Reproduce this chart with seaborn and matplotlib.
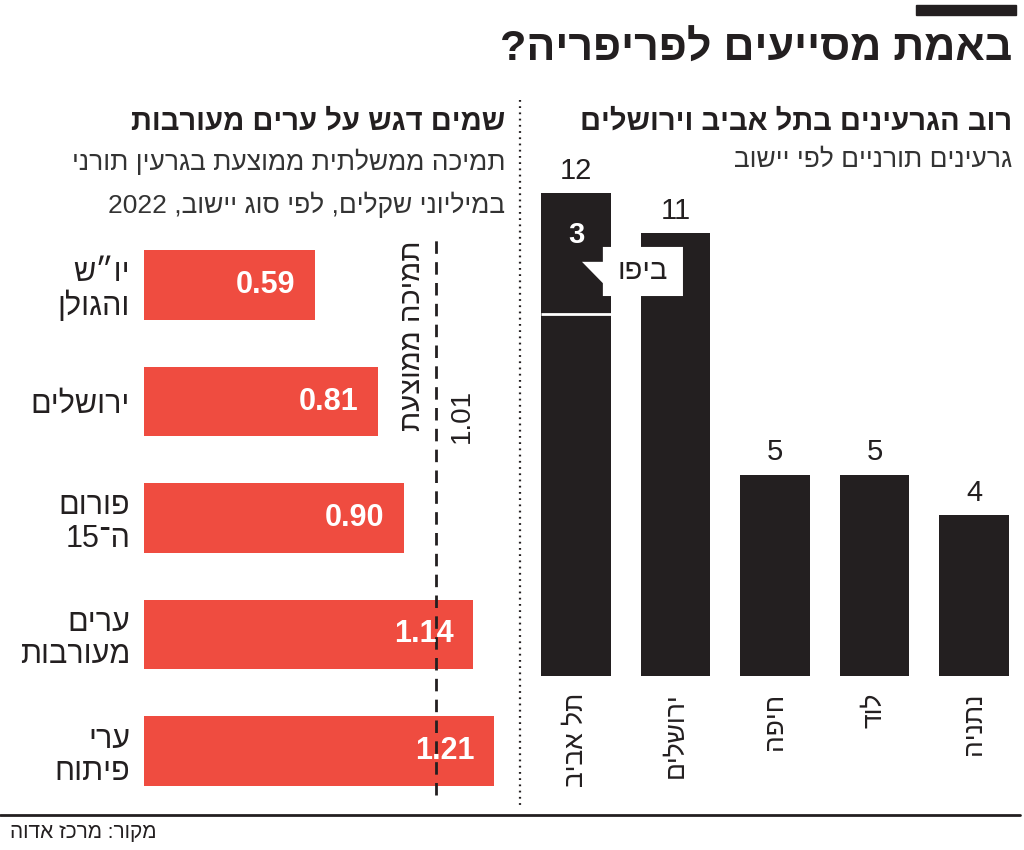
import re
import matplotlib
matplotlib.use("Agg")
import matplotlib.pyplot as plt
import seaborn as sns
import pandas as pd
from matplotlib.patches import Polygon, Rectangle
from matplotlib.lines import Line2D

# right panel: torah garinim per city
cities = ["תל אביב", "ירושלים", "חיפה", "לוד", "נתניה"]
garinim = [12, 11, 5, 5, 4]
jaffa_garinim = 3

# left panel: avg government support per garin, million NIS, 2022
settlement_types = ["יו״ש\nוהגולן", "ירושלים", "פורום\nה־15", "ערים\nמעורבות", "ערי\nפיתוח"]
avg_support = [0.59, 0.81, 0.90, 1.14, 1.21]
overall_avg = 1.01

title = "באמת מסייעים לפריפריה?"
right_title = "רוב הגרעינים בתל אביב וירושלים"
right_sub = "גרעינים תורניים לפי יישוב"
left_title = "שמים דגש על ערים מעורבות"
left_sub = ["תמיכה ממשלתית ממוצעת בגרעין תורני", "במיליוני שקלים, לפי סוג יישוב, 2022"]
source = "מקור: מרכז אדוה"

BLACK = "#231f20"
RED = "#ef4c40"
GRAY = "#333333"


def rtl(s):
    # matplotlib has no bidi, so flip each line but keep numbers readable
    out = []
    for line in s.split("\n"):
        tokens = re.findall(r"\d+(?:[.,]\d+)*|\D", line)
        out.append("".join(reversed(tokens)))
    return "\n".join(out)


sns.set_theme(style="white")
plt.rcParams["font.family"] = ["Liberation Sans", "DejaVu Sans"]

W, H = 1024, 850
fig = plt.figure(figsize=(W / 100, H / 100), dpi=100)


def fx(px):
    return px / W


def fy(py):
    return 1 - py / H


# ---- right chart ----
ax_r = fig.add_axes([fx(526.25), fy(676), 497.5 / W, 483 / H])
df_r = pd.DataFrame({"city": [rtl(c) for c in cities], "count": garinim})
sns.barplot(data=df_r, x="city", y="count", color=BLACK, saturation=1,
            width=0.7, linewidth=0, ax=ax_r)
ax_r.set_ylim(0, 12)
ax_r.set_xlim(-0.5, 4.5)
sns.despine(ax=ax_r, left=True, bottom=True)
ax_r.set_yticks([])
ax_r.set_xlabel("")
ax_r.set_ylabel("")
ax_r.tick_params(axis="x", length=0, pad=12, labelsize=19, colors=BLACK)
for lbl in ax_r.get_xticklabels():
    lbl.set_rotation(90)
    lbl.set_va("top")
ax_r.bar_label(ax_r.containers[0], labels=[str(v) for v in garinim],
               padding=6, fontsize=21, color=BLACK)

# Jaffa split inside the Tel Aviv bar
p = ax_r.patches[0]
ax_r.hlines(garinim[0] - jaffa_garinim, p.get_x(), p.get_x() + p.get_width(),
            colors="white", lw=2)
ax_r.text(0, garinim[0] - jaffa_garinim * 0.35, str(jaffa_garinim),
          color="white", ha="center", va="center", fontsize=21, weight="bold")
callout = Polygon([(0.27, 10.66), (1.075, 10.66), (1.075, 9.44), (0.27, 9.44),
                   (0.27, 9.76), (0.06, 10.29), (0.27, 10.29)],
                  closed=True, facecolor="white", edgecolor="none", zorder=5)
ax_r.add_patch(callout)
ax_r.text(0.67, 10.05, rtl("ביפו"), ha="center", va="center",
          fontsize=21, color=BLACK, zorder=6)

# ---- left chart ----
ax_l = fig.add_axes([fx(144), fy(809.25), 1.3 * 289 / W, 582.5 / H])
df_l = pd.DataFrame({"type": [rtl(s) for s in settlement_types], "support": avg_support})
sns.barplot(data=df_l, x="support", y="type", orient="h", color=RED,
            saturation=1, width=0.6, linewidth=0, ax=ax_l)
ax_l.set_xlim(0, 1.3)
ax_l.set_ylim(4.5, -0.5)
sns.despine(ax=ax_l, left=True, bottom=True)
ax_l.set_xticks([])
ax_l.set_xlabel("")
ax_l.set_ylabel("")
ax_l.tick_params(axis="y", length=0, pad=10, labelsize=22, colors=BLACK)
for lbl in ax_l.get_yticklabels():
    lbl.set_multialignment("right")
    lbl.set_linespacing(1.1)

for i, v in enumerate(avg_support):
    ax_l.annotate(f"{v:.2f}", (v, i), xytext=(-14, 0), textcoords="offset points",
                  ha="right", va="center", color="white", fontsize=22,
                  weight="bold", zorder=4)

ax_l.axvline(overall_avg, ymin=0.025, ymax=0.977, color=BLACK, lw=2,
             ls=(0, (4.5, 3)), zorder=3)
ax_l.annotate(rtl("תמיכה ממוצעת"), xy=(overall_avg, 0.977),
              xycoords=("data", "axes fraction"), xytext=(-17, 0),
              textcoords="offset points", rotation=90, ha="center", va="top",
              fontsize=21, color=BLACK)
ax_l.annotate(f"{overall_avg:.2f}", xy=(overall_avg, 0.629),
              xycoords=("data", "axes fraction"), xytext=(19, 0),
              textcoords="offset points", rotation=90, ha="center", va="bottom",
              fontsize=20, color=BLACK)

# ---- headings and frame ----
fig.add_artist(Rectangle((fx(916), fy(15)), 100 / W, 10 / H,
                         transform=fig.transFigure, color=BLACK))
fig.text(fx(1012), fy(50), rtl(title), ha="right", va="center",
         fontsize=31, weight="bold", color=BLACK)
fig.text(fx(1012), fy(122), rtl(right_title), ha="right", va="center",
         fontsize=21, weight="bold", color=BLACK)
fig.text(fx(1012), fy(160), rtl(right_sub), ha="right", va="center",
         fontsize=19, color=GRAY)
fig.text(fx(505), fy(122), rtl(left_title), ha="right", va="center",
         fontsize=21, weight="bold", color=BLACK)
for k, line in enumerate(left_sub):
    fig.text(fx(505), fy(162 + 43 * k), rtl(line), ha="right", va="center",
             fontsize=19, color=GRAY)

fig.add_artist(Line2D([fx(520), fx(520)], [fy(100), fy(808)],
                      transform=fig.transFigure, color=BLACK, lw=1.6,
                      ls=(0, (0.8, 2))))
fig.add_artist(Line2D([0, fx(1020)], [fy(815), fy(815)],
                      transform=fig.transFigure, color=BLACK, lw=2))
fig.text(fx(10), fy(832), rtl(source), ha="left", va="center",
         fontsize=15, color=BLACK)

fig.savefig("out.png", dpi=100, facecolor="white")
